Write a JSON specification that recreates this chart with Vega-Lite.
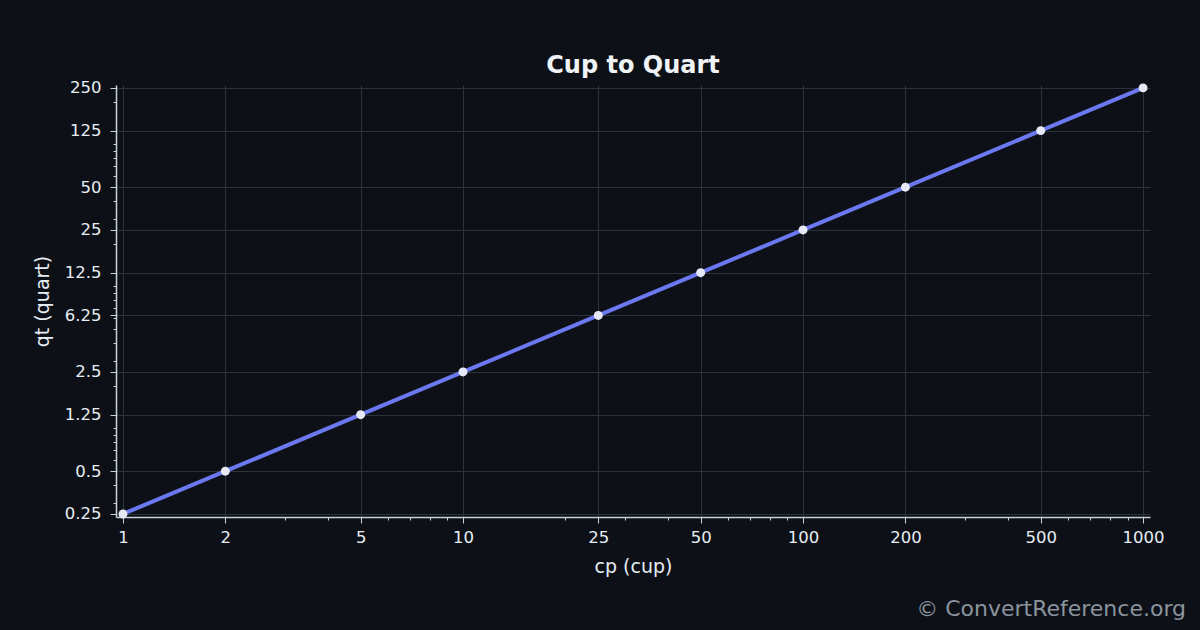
{
  "$schema": "https://vega.github.io/schema/vega-lite/v6.json",
  "autosize": {"type": "pad"},
  "padding": {"left": 33, "top": 53, "right": 60, "bottom": 30},
  "background": "#0d1117",
  "title": {
    "text": "© ConvertReference.org",
    "orient": "bottom",
    "anchor": "end",
    "frame": "group",
    "color": "#8b949e",
    "font": "DejaVu Sans",
    "fontSize": 22,
    "fontWeight": "normal",
    "offset": 22,
    "dx": 36
  },
  "config": {
    "view": {"stroke": null},
    "axis": {
      "labelFont": "DejaVu Sans",
      "titleFont": "DejaVu Sans",
      "labelColor": "#e6edf3",
      "titleColor": "#e6edf3",
      "labelFontSize": 16.5,
      "titleFontSize": 19,
      "titleFontWeight": "normal",
      "domainColor": "#c9d1d9",
      "domainWidth": 1.5,
      "tickColor": "#c9d1d9",
      "tickWidth": 1,
      "gridColor": "#2c333c",
      "gridWidth": 1,
      "labelOverlap": false,
      "labelFlush": false
    }
  },
  "vconcat": [
    {
      "width": 1034,
      "height": 432,
      "title": {
        "text": "Cup to Quart",
        "anchor": "middle",
        "frame": "group",
        "color": "#f0f3f6",
        "font": "DejaVu Sans",
        "fontSize": 24,
        "fontWeight": "bold",
        "offset": 2
      },
      "data": {
        "values": [
          {"cp": 1, "qt": 0.25},
          {"cp": 2, "qt": 0.5},
          {"cp": 5, "qt": 1.25},
          {"cp": 10, "qt": 2.5},
          {"cp": 25, "qt": 6.25},
          {"cp": 50, "qt": 12.5},
          {"cp": 100, "qt": 25},
          {"cp": 200, "qt": 50},
          {"cp": 500, "qt": 125},
          {"cp": 1000, "qt": 250}
        ]
      },
      "encoding": {
        "x": {
          "field": "cp",
          "type": "quantitative",
          "title": "cp (cup)",
          "scale": {"type": "log", "domain": [0.954, 1048], "nice": false},
          "axis": {
            "values": [1, 2, 3, 4, 5, 6, 7, 8, 9, 10, 20, 25, 30, 40, 50, 60, 70, 80, 90, 100, 200, 300, 400, 500, 600, 700, 800, 900, 1000],
            "labelExpr": "indexof([1,2,5,10,25,50,100,200,500,1000], datum.value) >= 0 ? format(datum.value, '~g') : ''",
            "tickSize": {"condition": {"test": "indexof([1,2,5,10,25,50,100,200,500,1000], datum.value) >= 0", "value": 6}, "value": 3},
            "gridOpacity": {"condition": {"test": "indexof([1,2,5,10,25,50,100,200,500,1000], datum.value) >= 0", "value": 1}, "value": 0},
            "labelPadding": 6,
            "titlePadding": 12
          }
        },
        "y": {
          "field": "qt",
          "type": "quantitative",
          "title": "qt (quart)",
          "scale": {"type": "log", "domain": [0.238, 262], "nice": false},
          "axis": {
            "values": [0.25, 0.3, 0.4, 0.5, 0.6, 0.7, 0.8, 0.9, 1, 1.25, 2, 2.5, 3, 4, 5, 6, 6.25, 7, 8, 9, 10, 12.5, 20, 25, 30, 40, 50, 60, 70, 80, 90, 100, 125, 200, 250],
            "labelExpr": "indexof([0.25,0.5,1.25,2.5,6.25,12.5,25,50,125,250], datum.value) >= 0 ? format(datum.value, '~g') : ''",
            "tickSize": {"condition": {"test": "indexof([0.25,0.5,1.25,2.5,6.25,12.5,25,50,125,250], datum.value) >= 0", "value": 6}, "value": 3},
            "gridOpacity": {"condition": {"test": "indexof([0.25,0.5,1.25,2.5,6.25,12.5,25,50,125,250], datum.value) >= 0", "value": 1}, "value": 0},
            "labelPadding": 9,
            "titlePadding": 12
          }
        }
      },
      "layer": [
        {"mark": {"type": "line", "color": "#6b78f0", "strokeWidth": 4}},
        {"mark": {"type": "point", "filled": true, "color": "#e6e9f5", "size": 80, "opacity": 1}}
      ]
    }
  ]
}
